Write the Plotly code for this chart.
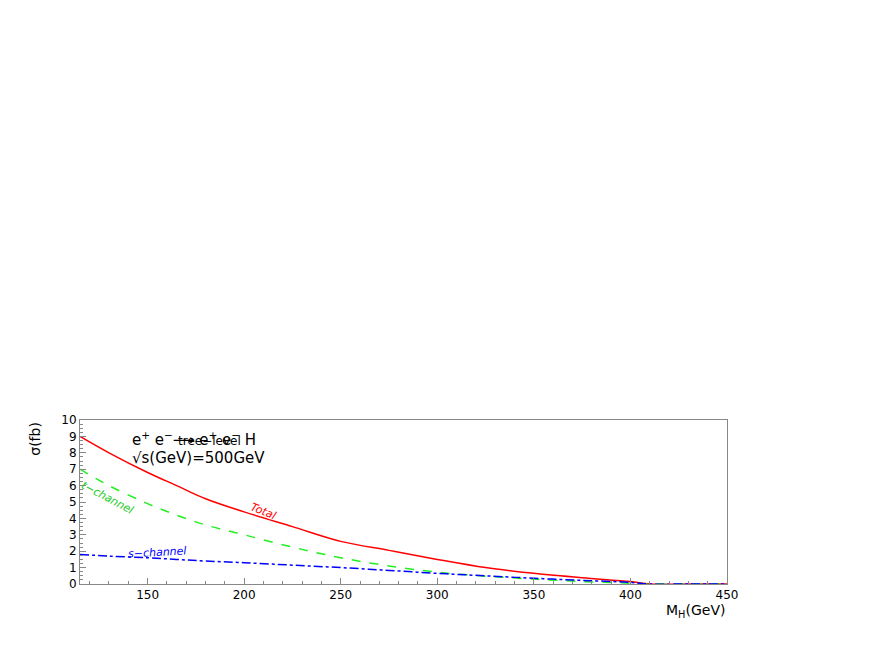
import plotly.graph_objects as go

# Higgs mass (GeV) and cross sections (fb)
mh = [115, 130, 150, 165, 180, 200, 225, 250, 275, 300, 325, 350, 375, 400, 410, 430, 450]
total = [9.0, 8.0, 6.8, 6.0, 5.2, 4.4, 3.5, 2.6, 2.05, 1.5, 1.0, 0.65, 0.38, 0.15, 0.0, 0.0, 0.0]
t_channel = [7.0, 6.0, 4.9, 4.2, 3.6, 3.0, 2.25, 1.6, 1.1, 0.72, 0.48, 0.3, 0.15, 0.05, 0.0, 0.0, 0.0]
s_channel = [1.8, 1.7, 1.6, 1.5, 1.4, 1.3, 1.15, 1.0, 0.83, 0.65, 0.5, 0.35, 0.22, 0.1, 0.0, 0.0, 0.0]

fig = go.Figure()
fig.add_trace(go.Scatter(x=mh, y=total, mode="lines", line=dict(color="red", width=1.5, shape="spline")))
fig.add_trace(go.Scatter(x=mh, y=t_channel, mode="lines", line=dict(color="#22ee22", width=1.5, dash="dash", shape="spline")))
fig.add_trace(go.Scatter(x=mh, y=s_channel, mode="lines", line=dict(color="blue", width=1.5, dash="dashdot", shape="spline")))

big = dict(family="DejaVu Sans", size=15, color="black")
fig.add_annotation(x=0.077, y=0.96, xref="paper", yref="paper", xanchor="left", yanchor="top", showarrow=False,
                   text="e<sup>+</sup> e<sup>−</sup>⟶ e<sup>+</sup> e<sup>−</sup> H", font=big)
fig.add_annotation(x=0.2, y=0.875, xref="paper", yref="paper", xanchor="center", yanchor="middle", showarrow=False,
                   text="tree−level", font=dict(family="DejaVu Sans", size=12, color="black"))
fig.add_annotation(x=0.077, y=0.77, xref="paper", yref="paper", xanchor="left", yanchor="middle", showarrow=False,
                   text="√s(GeV)=500GeV", font=big)
fig.add_annotation(x=210, y=4.4, showarrow=False, text="<i>Total</i>", textangle=22,
                   font=dict(family="DejaVu Sans", size=11, color="red"))
fig.add_annotation(x=129, y=5.3, showarrow=False, text="<i>t−channel</i>", textangle=28,
                   font=dict(family="DejaVu Sans", size=11, color="#22cc22"))
fig.add_annotation(x=155, y=1.95, showarrow=False, text="<i>s−channel</i>", textangle=-3,
                   font=dict(family="DejaVu Sans", size=11, color="blue"))
fig.add_annotation(x=1.0, y=-0.1, xref="paper", yref="paper", xanchor="right", yanchor="top", showarrow=False,
                   text="M<sub>H</sub>(GeV)", font=dict(family="DejaVu Sans", size=14, color="black"))
fig.add_annotation(x=-0.07, y=1.0, xref="paper", yref="paper", xanchor="center", yanchor="top", showarrow=False,
                   text="σ(fb)", textangle=-90, font=dict(family="DejaVu Sans", size=14, color="black"))

axis = dict(showgrid=False, zeroline=False, showline=True, linecolor="#888", mirror=True,
            ticks="inside", ticklen=6, tickcolor="#888", tickfont=dict(family="DejaVu Sans", size=12, color="black"),
            minor=dict(ticks="inside", ticklen=3, tickcolor="#888"))
fig.update_xaxes(range=[115, 450], dtick=50, minor_dtick=10, **axis)
fig.update_yaxes(range=[0, 10], dtick=1, minor_dtick=0.25, **axis)
fig.update_layout(width=872, height=654, showlegend=False, plot_bgcolor="white", paper_bgcolor="white",
                  margin=dict(l=72, r=153, t=412, b=78))
fig.write_html("out.html")
